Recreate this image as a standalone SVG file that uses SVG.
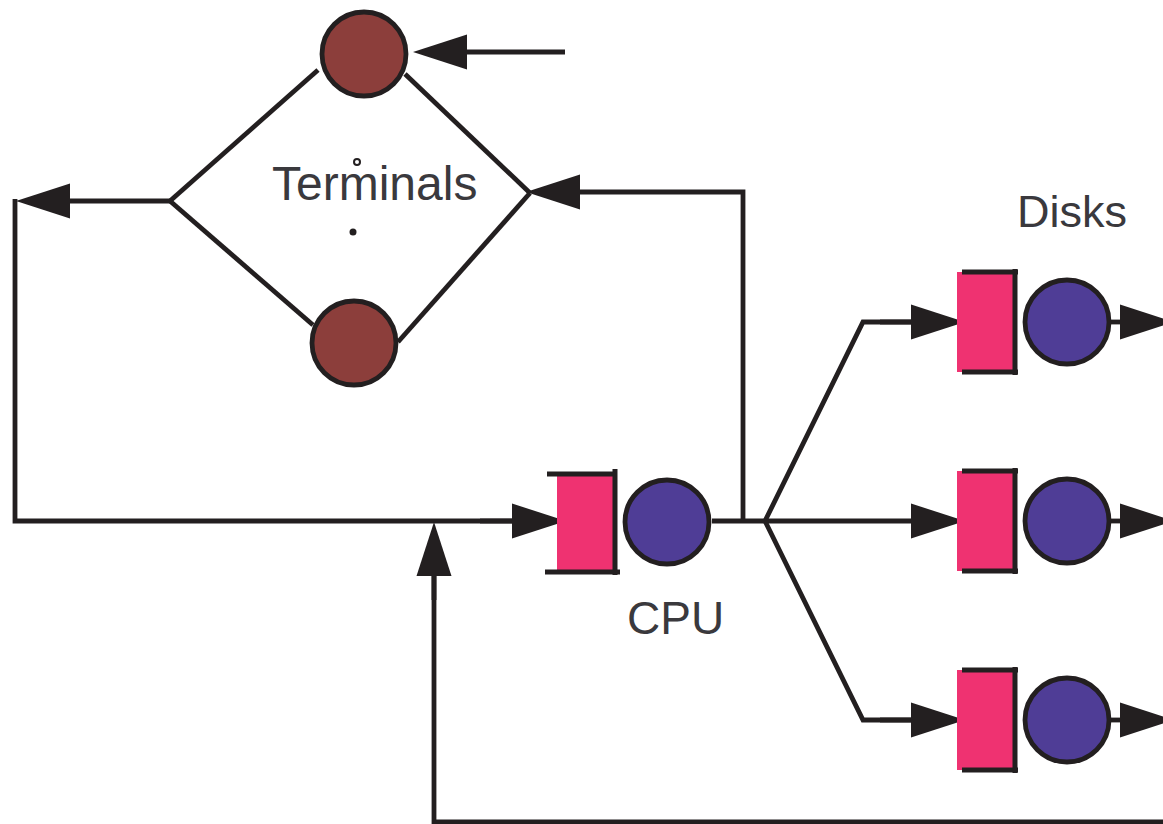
<svg xmlns="http://www.w3.org/2000/svg" width="1163" height="824" viewBox="0 0 1163 824">
<style>
.ln{fill:none;stroke:#231f20;stroke-width:4.8;stroke-linejoin:miter;}
.arr{fill:none;stroke:#231f20;stroke-width:4.8;marker-end:url(#ah);}
.term{fill:#8c3e3b;stroke:#231f20;stroke-width:4.8;}
.srv{fill:#4f3d96;stroke:#231f20;stroke-width:4.8;}
.q{fill:#ef3271;}
.qb{fill:none;stroke:#231f20;stroke-width:5;}
.lbl{font-family:"Liberation Sans",Arial,sans-serif;fill:#3a393d;}
</style>
<defs>
<marker id="ah" markerUnits="userSpaceOnUse" markerWidth="56" markerHeight="36" refX="0" refY="17.5" orient="auto" overflow="visible">
<path d="M0,0 L54,17.5 L0,35 Z" fill="#231f20"/>
</marker>
</defs>
<rect width="1163" height="824" fill="#ffffff"/>
<g id="connectors">
<path class="ln" d="M170,201 L318,70"/>
<path class="ln" d="M405,74 L530,193"/>
<path class="ln" d="M170,201 L313,325"/>
<path class="ln" d="M398,342 L530,193"/>
<path class="arr" d="M565,52 H467"/>
<path class="arr" d="M743,521 V192 H580"/>
<path class="arr" d="M170,201 H70"/>
<path class="ln" d="M15,199 V521 H512"/>
<path class="arr" d="M480,521 H512"/>
<path class="ln" d="M1163,822 H434 V576"/>
<path class="arr" d="M434,600 V576"/>
<path class="ln" d="M712,521 H765"/>
<path class="ln" d="M765,521 L863,322 H911"/>
<path class="arr" d="M880,322 H911"/>
<path class="arr" d="M765,521 H911"/>
<path class="ln" d="M765,521 L863,720 H911"/>
<path class="arr" d="M880,720 H911"/>
<path class="arr" d="M1108,322 H1120"/>
<path class="arr" d="M1108,521 H1120"/>
<path class="arr" d="M1108,720 H1120"/>
</g>
<g id="terminal-top"><circle class="term" cx="364" cy="54" r="42"/></g>
<g id="terminal-bottom"><circle class="term" cx="354" cy="343" r="42"/></g>
<g id="terminals-label">
<circle cx="357" cy="162" r="3" fill="#fff" stroke="#231f20" stroke-width="2"/>
<circle cx="353" cy="232" r="3.5" fill="#231f20"/>
<text class="lbl" x="272" y="200" font-size="48">Terminals</text>
</g>
<g id="cpu">
<rect class="q" x="557" y="473" width="56" height="99"/>
<path class="qb" d="M547,474 H617 M545,572 H620 M615,469 V575"/>
<circle class="srv" cx="667" cy="522" r="42"/>
<text class="lbl" x="627" y="634" font-size="46">CPU</text>
</g>
<g id="disk1">
<rect class="q" x="957" y="272" width="56" height="100"/>
<path class="qb" d="M962,272 H1018 M962,372 H1018 M1015,269 V375"/>
<circle class="srv" cx="1067" cy="322" r="42"/>
</g>
<g id="disk2">
<rect class="q" x="957" y="471" width="56" height="100"/>
<path class="qb" d="M962,471 H1018 M962,571 H1018 M1015,468 V574"/>
<circle class="srv" cx="1067" cy="521" r="42"/>
</g>
<g id="disk3">
<rect class="q" x="957" y="670" width="56" height="100"/>
<path class="qb" d="M962,670 H1018 M962,770 H1018 M1015,667 V773"/>
<circle class="srv" cx="1067" cy="720" r="42"/>
</g>
<g id="disks-label"><text class="lbl" x="1017" y="227" font-size="45">Disks</text></g>
</svg>
